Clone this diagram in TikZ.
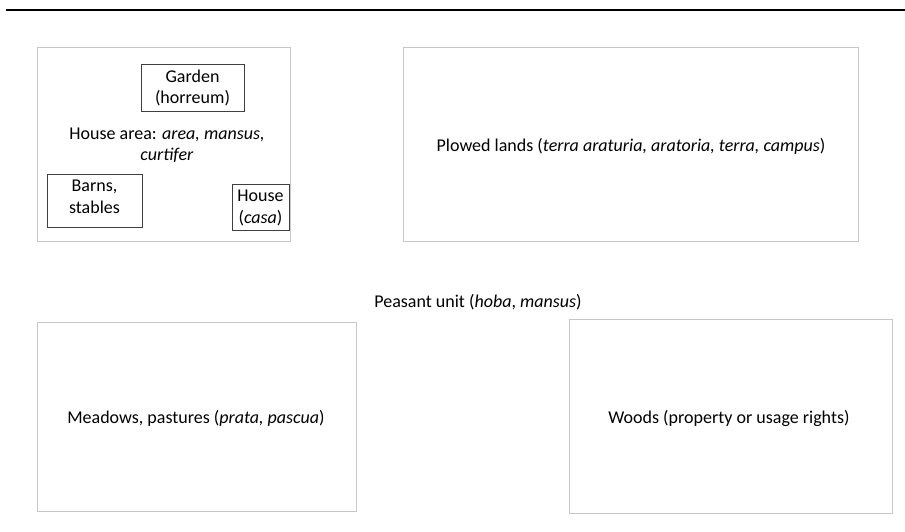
\documentclass[tikz,border=0pt]{standalone}
\usepackage{fontspec}
\setmainfont{Carlito}
\begin{document}
\begin{tikzpicture}[x=1pt,y=-1pt,
  outer/.style={draw=black!22, line width=1pt},
  inner/.style={draw=black!75, line width=0.9pt},
  lbl/.style={font=\fontsize{18}{21.5}\selectfont, align=center, inner sep=0pt}]
\useasboundingbox (0,0) rectangle (905,532);
\coordinate (tl) at (6,10);
\coordinate (tr) at (905,10);
\draw[line width=1.5pt] (tl) -- (tr);
% outer boxes
\draw[outer] (37,48) rectangle (290,241);
\draw[outer] (403,48) rectangle (858,241);
\draw[outer] (37,322) rectangle (356,511);
\draw[outer] (569,319) rectangle (892,513);
% inner boxes
\draw[inner] (141,64) rectangle (244,111);
\draw[inner] (47,174) rectangle (142,227);
\draw[inner] (232,184) rectangle (289,230);
% labels
\node[lbl] (garden) at (192.5,88) {Garden\\(horreum)};
\node[lbl] (barns) at (94.5,197) {Barns,\\stables};
\node[lbl] (house) at (260.5,208) {House\\(\textit{casa})};
\node[lbl] (area) at (167,145.5) {House area: \textit{area, mansus,}\\\textit{curtifer}};
\node[lbl] (plowed) at (631,146) {Plowed lands (\textit{terra araturia, aratoria, terra, campus})};
\node[lbl] (unit) at (478,302) {Peasant unit (\textit{hoba}, \textit{mansus})};
\node[lbl] (meadows) at (196,418) {Meadows, pastures (\textit{prata, pascua})};
\node[lbl] (woods) at (729,418) {Woods (property or usage rights)};
\end{tikzpicture}
\end{document}
